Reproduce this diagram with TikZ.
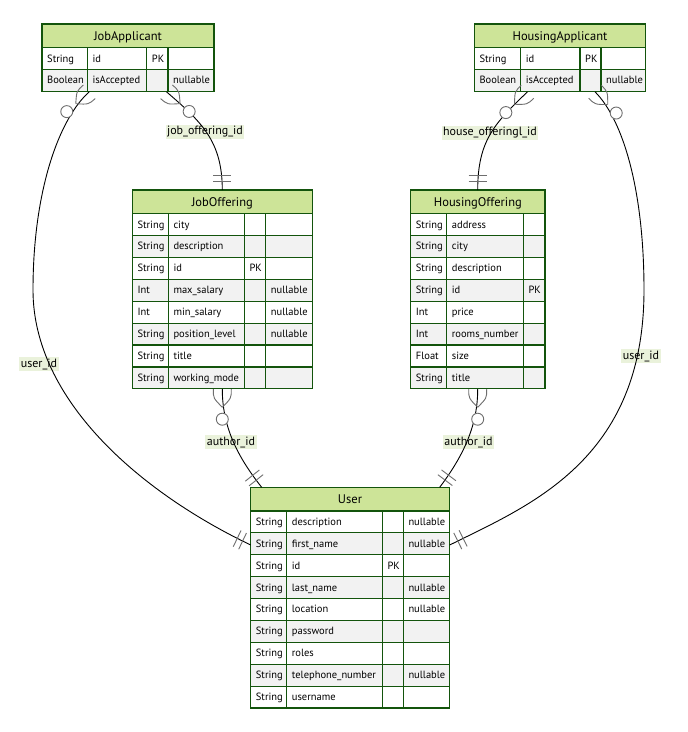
\documentclass[tikz,border=0pt]{standalone}
\usepackage{fontspec}
\setmainfont{PT Sans}
\usetikzlibrary{calc}

\definecolor{erline}{RGB}{19,84,12}
\definecolor{erhead}{RGB}{205,228,152}
\definecolor{erodd}{RGB}{255,255,255}
\definecolor{ereven}{RGB}{242,242,242}
\definecolor{lblbg}{RGB}{234,242,219}
\definecolor{mkcol}{RGB}{110,110,110}

\tikzset{
  cell/.style={draw=erline, line width=1.2pt},
  celltext/.style={anchor=base west, inner sep=0pt, font=\fontsize{10.5}{12}\selectfont},
  titletext/.style={anchor=base, inner sep=0pt, font=\fontsize{12.5}{14}\selectfont},
  rel/.style={draw=black, line width=0.9pt},
  relmark/.style={draw=mkcol, line width=0.9pt},
  edgelabel/.style={fill=lblbg, inner xsep=1.5pt, inner ysep=1.5pt, font=\fontsize{12}{14}\selectfont},
}

% entity header; #1 name, #2 title, #3 left, #4-#6 column dividers, #7 right, #8 top, #9 rows
\newcommand\ertable[9]{%
  \xdef\erL{#3}\xdef\erA{#4}\xdef\erB{#5}\xdef\erC{#6}\xdef\erR{#7}\xdef\erT{#8}\xdef\erN{#1}%
  \pgfmathsetmacro\erHB{#8+23.6}%
  \pgfmathsetmacro\erW{#7-#3}%
  \pgfmathsetmacro\erHt{23.6+21.9*#9}%
  \node[inner sep=0pt, minimum width=\erW pt, minimum height=\erHt pt, anchor=north west] (#1) at (#3,#8) {};
  \filldraw[cell, fill=erhead] (#3,#8) rectangle (#7,\erHB);
  \node[titletext] (#1-title) at ({(#3+#7)/2},{#8+16.2}) {#2};
}

% attribute row; #1 index, #2 type, #3 attribute, #4 key, #5 comment
\newcommand\errow[5]{%
  \pgfmathsetmacro\rT{\erT+23.6+21.9*(#1-1)}%
  \pgfmathsetmacro\rB{\rT+21.9}%
  \pgfmathsetmacro\rY{\rT+14.4}%
  \ifodd#1\def\rfill{erodd}\else\def\rfill{ereven}\fi
  \fill[\rfill] (\erL,\rT) rectangle (\erR,\rB);
  \draw[cell] (\erL,\rT) rectangle (\erA,\rB);
  \draw[cell] (\erA,\rT) rectangle (\erB,\rB);
  \draw[cell] (\erB,\rT) rectangle (\erC,\rB);
  \ifdim\erC pt<\erR pt \draw[cell] (\erC,\rT) rectangle (\erR,\rB);\fi
  \node[celltext] (\erN-r#1-type) at (\erL+5,\rY) {#2};
  \node[celltext] (\erN-r#1-name) at (\erA+5,\rY) {#3};
  \if\relax\detokenize{#4}\relax\else\node[celltext] (\erN-r#1-key) at (\erB+5,\rY) {#4};\fi
  \if\relax\detokenize{#5}\relax\else\node[celltext] (\erN-r#1-note) at (\erC+5,\rY) {#5};\fi
}

% zero-or-more end: #1 point on the entity edge, #2 point along the line away from it
\newcommand\zeromany[2]{%
  \coordinate (zmE) at (#1);
  \coordinate (zmT) at (#2);
  \coordinate (zmM) at ($(zmE)!9pt!(zmT)$);
  \coordinate (zmA) at ($(zmE)!18pt!(zmT)$);
  \coordinate (zmO) at ($(zmE)!30pt!(zmT)$);
  \coordinate (zmM1) at ($(zmM)!9pt!90:(zmT)$);
  \coordinate (zmM2) at ($(zmM)!9pt!-90:(zmT)$);
  \coordinate (zmE1) at ($(zmE)!9pt!90:(zmT)$);
  \coordinate (zmE2) at ($(zmE)!9pt!-90:(zmT)$);
  \draw[relmark] (zmA) .. controls (zmM1) .. (zmE1);
  \draw[relmark] (zmA) .. controls (zmM2) .. (zmE2);
  \draw[relmark, fill=white] (zmO) circle[radius=6pt];
}

% exactly-one end: two bars across the line
\newcommand\onlyone[2]{%
  \coordinate (ooE) at (#1);
  \coordinate (ooT) at (#2);
  \foreach \d in {9,15}{%
    \coordinate (ooP) at ($(ooE)!\d pt!(ooT)$);
    \draw[relmark] ($(ooP)!9pt!90:(ooT)$) -- ($(ooP)!9pt!-90:(ooT)$);
  }%
}

\begin{document}
\begin{tikzpicture}[x=1pt, y=-1pt]
\useasboundingbox (0,0) rectangle (688,732);
\fill[white] (0,0) rectangle (688,732);

% ---- entities ----
\ertable{JobApplicant}{JobApplicant}{42}{87.3}{146.7}{168}{214}{24}{2}
\errow{1}{String}{id}{PK}{}
\errow{2}{Boolean}{isAccepted}{}{nullable}

\ertable{HousingApplicant}{HousingApplicant}{474.3}{520.7}{580}{601}{645.7}{24}{2}
\errow{1}{String}{id}{PK}{}
\errow{2}{Boolean}{isAccepted}{}{nullable}

\ertable{JobOffering}{JobOffering}{132.3}{168.3}{244.3}{265.7}{312.3}{190}{8}
\errow{1}{String}{city}{}{}
\errow{2}{String}{description}{}{}
\errow{3}{String}{id}{PK}{}
\errow{4}{Int}{max\_salary}{}{nullable}
\errow{5}{Int}{min\_salary}{}{nullable}
\errow{6}{String}{position\_level}{}{nullable}
\errow{7}{String}{title}{}{}
\errow{8}{String}{working\_mode}{}{}

\ertable{HousingOffering}{HousingOffering}{410.7}{446.7}{523.3}{545}{545}{190}{8}
\errow{1}{String}{address}{}{}
\errow{2}{String}{city}{}{}
\errow{3}{String}{description}{}{}
\errow{4}{String}{id}{PK}{}
\errow{5}{Int}{price}{}{}
\errow{6}{Int}{rooms\_number}{}{}
\errow{7}{Float}{size}{}{}
\errow{8}{String}{title}{}{}

\ertable{User}{User}{250.7}{286.7}{382.3}{403.3}{449.3}{487.3}{9}
\errow{1}{String}{description}{}{nullable}
\errow{2}{String}{first\_name}{}{nullable}
\errow{3}{String}{id}{PK}{}
\errow{4}{String}{last\_name}{}{nullable}
\errow{5}{String}{location}{}{nullable}
\errow{6}{String}{password}{}{}
\errow{7}{String}{roles}{}{}
\errow{8}{String}{telephone\_number}{}{nullable}
\errow{9}{String}{username}{}{}

% ---- attachment points ----
\coordinate (ja-user) at ($(JobApplicant.south west)+(47.3,0)$);
\coordinate (ja-job)  at ($(JobApplicant.south west)+(124.5,0)$);
\coordinate (ha-house) at ($(HousingApplicant.south west)+(53.2,0)$);
\coordinate (ha-user)  at ($(HousingApplicant.south west)+(120.7,0)$);
\coordinate (jo-top) at ($(JobOffering.north west)+(90,0)$);
\coordinate (jo-bot) at ($(JobOffering.south west)+(90,0)$);
\coordinate (ho-top) at ($(HousingOffering.north west)+(67,0)$);
\coordinate (ho-bot) at ($(HousingOffering.south west)+(67,0)$);
\coordinate (us-w)  at ($(User.north west)+(0,57.7)$);
\coordinate (us-e)  at ($(User.north east)+(0,57.7)$);
\coordinate (us-nw) at ($(User.north west)+(11,0)$);
\coordinate (us-ne) at ($(User.north east)+(-10,0)$);

% ---- relationship labels ----
\node[edgelabel] (lbl-job)   at (205,132) {job\_offering\_id};
\node[edgelabel] (lbl-house) at (490,133) {house\_offeringl\_id};
\node[edgelabel] (lbl-uid1)  at (39,364)  {user\_id};
\node[edgelabel] (lbl-uid2)  at (641,356) {user\_id};
\node[edgelabel] (lbl-auth1) at (231,442) {author\_id};
\node[edgelabel] (lbl-auth2) at (468.5,442) {author\_id};

% ---- relationships ----
\draw[rel] (ja-user) .. controls (59.5,118.0) and (33,190) .. (33,290)
                     .. controls (33,400) and (140,492) .. (us-w);
\draw[rel] (ja-job) .. controls (200.3,121.1) and (222.3,140) .. (jo-top);
\draw[rel] (ha-house) .. controls (495.2,122.8) and (477.7,140) .. (ho-top);
\draw[rel] (ha-user) .. controls (623.1,119.9) and (644,190) .. (644,290)
                     .. controls (644,460) and (530,505) .. (us-e);
\draw[rel] (jo-bot) .. controls (222.3,425) and (236,455) .. (us-nw);
\draw[rel] (ho-bot) .. controls (477.7,425) and (464,455) .. (us-ne);

% ---- cardinality markers ----
\zeromany{ja-user}{59.5,118.0}
\onlyone{us-w}{140,492}
\zeromany{ja-job}{200.3,121.1}
\onlyone{jo-top}{222.3,140}
\zeromany{ha-house}{495.2,122.8}
\onlyone{ho-top}{477.7,140}
\zeromany{ha-user}{623.1,119.9}
\onlyone{us-e}{530,505}
\zeromany{jo-bot}{222.3,425}
\onlyone{us-nw}{236,455}
\zeromany{ho-bot}{477.7,425}
\onlyone{us-ne}{464,455}
\end{tikzpicture}
\end{document}
